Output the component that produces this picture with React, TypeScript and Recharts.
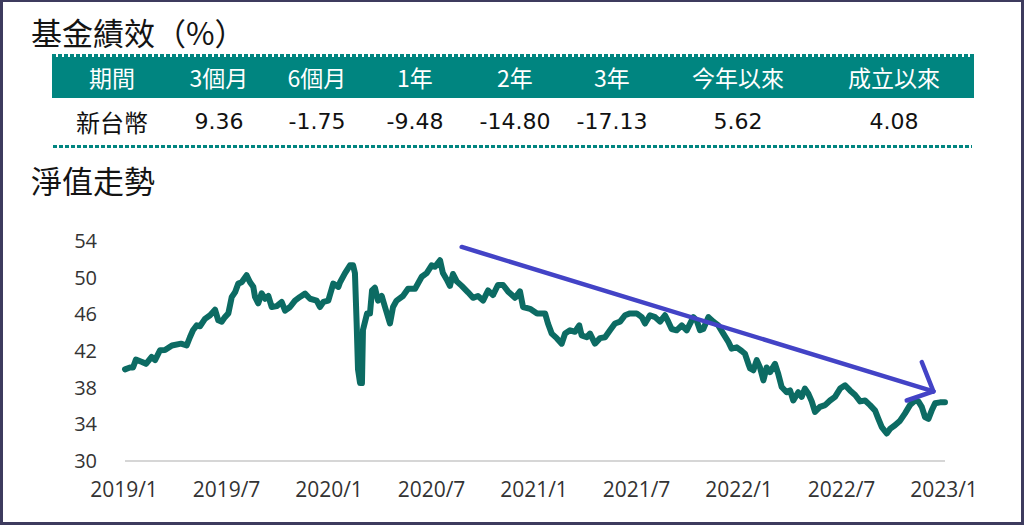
import React from 'react';
import { LineChart, Line, XAxis, YAxis, ReferenceLine } from 'recharts';

// Performance table
const periodHeaders = ['期間', '3個月', '6個月', '1年', '2年', '3年', '今年以來', '成立以來'];
const rowLabel = '新台幣';
const returnValues = ['9.36', '-1.75', '-9.48', '-14.80', '-17.13', '5.62', '4.08'];

// NAV chart: time in months since 2019/1, NAV
const tickLabels = ['2019/1', '2019/7', '2020/1', '2020/7', '2021/1', '2021/7', '2022/1', '2022/7', '2023/1'];
const tickMonths = [0, 6, 12, 18, 24, 30, 36, 42, 48];
const yTicks = [30, 34, 38, 42, 46, 50, 54];
const navMonths = [
  0, 0.29, 0.47, 0.64, 1.0, 1.23, 1.56, 1.76, 2.05, 2.34, 2.75, 3.28, 3.61, 3.8, 3.98, 4.2,
  4.39, 4.68, 4.98, 5.27, 5.46, 5.66, 5.85, 6.05, 6.25, 6.44, 6.63, 6.83, 7.12, 7.32, 7.51, 7.61,
  7.8, 8.0, 8.2, 8.39, 8.59, 8.88, 9.17, 9.37, 9.66, 9.95, 10.24, 10.54, 10.83, 11.22, 11.41, 11.61,
  11.9, 12.19, 12.49, 12.59, 12.88, 13.17, 13.35, 13.46, 13.56, 13.64, 13.76, 13.87, 13.93, 14.17, 14.34, 14.46,
  14.63, 14.81, 15.03, 15.22, 15.51, 15.69, 15.9, 16.27, 16.57, 16.98, 17.37, 17.66, 17.95, 18.15, 18.44, 18.61,
  18.83, 19.02, 19.2, 19.42, 19.71, 20.08, 20.37, 20.66, 20.96, 21.25, 21.54, 21.83, 22.13, 22.42, 22.83, 23.12,
  23.3, 23.71, 24.12, 24.29, 24.59, 24.76, 24.98, 25.27, 25.56, 25.76, 26.05, 26.34, 26.59, 26.73, 27.03, 27.22,
  27.51, 27.81, 28.1, 28.39, 28.68, 28.98, 29.27, 29.56, 29.95, 30.25, 30.44, 30.73, 31.03, 31.32, 31.61, 31.8,
  32.0, 32.29, 32.59, 32.88, 33.27, 33.46, 33.66, 33.85, 34.15, 34.44, 34.73, 35.02, 35.32, 35.51, 35.81, 36.1,
  36.29, 36.49, 36.59, 36.78, 36.98, 37.17, 37.37, 37.56, 37.76, 38.05, 38.24, 38.44, 38.73, 38.93, 39.12, 39.41,
  39.61, 39.8, 40.0, 40.2, 40.39, 40.68, 40.98, 41.27, 41.56, 41.86, 42.15, 42.44, 42.74, 43.03, 43.32, 43.61,
  43.91, 44.1, 44.3, 44.59, 44.78, 45.07, 45.37, 45.66, 45.95, 46.25, 46.44, 46.64, 46.83, 47.03, 47.22, 47.42,
  47.71, 48.0,
];
const navValues = [
  40.0, 40.2, 40.2, 41.06, 40.8, 40.6, 41.35, 41.0, 42.08, 42.1, 42.6, 42.8, 42.6, 43.5, 44.26, 44.8,
  44.7, 45.5, 45.9, 46.5, 45.35, 45.2, 45.7, 46.1, 47.9, 48.4, 49.35, 49.5, 50.26, 49.5, 49.0, 47.9,
  47.2, 48.3, 47.7, 48.0, 46.8, 46.9, 47.35, 46.4, 46.8, 47.5, 47.9, 48.26, 47.7, 47.5, 46.8, 47.35,
  47.5, 49.35, 49.0, 49.5, 50.5, 51.35, 51.35, 50.5, 45.0, 40.0, 38.5, 38.5, 44.3, 46.1, 46.1, 48.6,
  48.9, 47.5, 48.0, 46.8, 45.0, 46.8, 47.5, 48.0, 48.8, 48.8, 50.1, 50.5, 51.35, 51.2, 51.9, 50.5,
  49.8, 49.1, 50.4, 49.6, 49.1, 48.4, 47.8, 48.0, 47.5, 48.6, 48.1, 49.2, 49.2, 48.5, 47.8, 48.5,
  46.8, 46.6, 46.1, 46.1, 46.1, 45.0, 43.9, 43.4, 42.8, 43.9, 44.26, 44.1, 44.8, 43.7, 43.5, 43.9,
  42.8, 43.4, 43.5, 44.26, 45.0, 45.2, 45.9, 46.1, 46.1, 45.7, 45.0, 45.9, 45.7, 45.2, 45.9, 45.2,
  44.4, 44.26, 44.8, 44.26, 45.7, 45.35, 44.26, 44.4, 45.7, 45.2, 44.8, 43.9, 43.0, 42.26, 42.4, 42.0,
  41.7, 40.6, 40.1, 39.9, 41.0, 40.2, 38.8, 40.2, 39.7, 40.6, 39.5, 38.07, 37.5, 37.7, 36.6, 37.5,
  37.0, 37.9, 37.35, 36.5, 35.35, 35.9, 36.1, 36.6, 37.0, 37.9, 38.26, 37.7, 37.2, 36.5, 36.6, 36.1,
  35.5, 34.6, 33.7, 33.0, 33.5, 33.9, 34.4, 35.2, 36.1, 36.6, 36.5, 35.9, 34.8, 34.6, 35.5, 36.3,
  36.4, 36.4,
];

// Trend arrow annotation (in chart data units: months, NAV)
const arrowStart = { x: 19.71, y: 53.35 };
const arrowTip = { x: 47.32, y: 37.6 };
const arrowHeadA = { x: 46.64, y: 40.8 };
const arrowHeadB = { x: 45.76, y: 36.6 };

const chartData = navMonths.map((m, i) => ({ t: m, nav: navValues[i] }));

const TEAL = '#008580';
const LINE = '#0c6b63';
const ARROW = '#4343c6';
const CJK = '"Noto Sans CJK TC", "Noto Sans CJK SC", sans-serif';
const NUM = '"DejaVu Sans", sans-serif';

const colCenters = [112, 219, 317, 415, 515, 612, 738, 894];

const dotted: React.CSSProperties = {
  position: 'absolute',
  height: 3,
  backgroundImage: `repeating-linear-gradient(to right, ${TEAL} 0px, ${TEAL} 4px, transparent 4px, transparent 6px)`,
};

export default function App() {
  return (
    <div style={{ position: 'absolute', left: 0, top: 0, width: 1024, height: 525, background: '#fff', overflow: 'hidden' }}>
      <div style={{ position: 'absolute', left: 31, top: 10, fontFamily: CJK, fontSize: 31, color: '#141414', lineHeight: '44px', whiteSpace: 'nowrap' }}>
        基金績效（%）
      </div>

      <div style={{ ...dotted, left: 52, top: 54, width: 922 }} />
      <div style={{ position: 'absolute', left: 52, top: 57, width: 922, height: 41, background: TEAL }} />
      {periodHeaders.map((h, i) => (
        <div key={h} style={{ position: 'absolute', left: colCenters[i] - 70, width: 140, top: 57, height: 41, lineHeight: '41px', textAlign: 'center', color: '#fff', fontFamily: CJK, fontSize: 23, whiteSpace: 'nowrap' }}>
          {h}
        </div>
      ))}
      <div style={{ position: 'absolute', left: colCenters[0] - 70, width: 140, top: 101, height: 41, lineHeight: '41px', textAlign: 'center', color: '#111', fontFamily: CJK, fontSize: 24 }}>
        {rowLabel}
      </div>
      {returnValues.map((v, i) => (
        <div key={i} style={{ position: 'absolute', left: colCenters[i + 1] - 70, width: 140, top: 101, height: 41, lineHeight: '41px', textAlign: 'center', color: '#111', fontFamily: NUM, fontSize: 22 }}>
          {v}
        </div>
      ))}
      <div style={{ ...dotted, left: 53, top: 144.5, width: 919 }} />

      <div style={{ position: 'absolute', left: 31, top: 158, fontFamily: CJK, fontSize: 31, color: '#141414', lineHeight: '44px', whiteSpace: 'nowrap' }}>
        淨值走勢
      </div>

      <div style={{ position: 'absolute', left: 0, top: 220 }}>
        <LineChart width={1024} height={301} data={chartData} margin={{ top: 21, right: 79, bottom: 0, left: 0 }}>
          <XAxis
            dataKey="t"
            type="number"
            domain={[0, 48]}
            ticks={tickMonths}
            interval={0}
            tickFormatter={(v: number) => tickLabels[tickMonths.indexOf(v)]}
            axisLine={{ stroke: '#d6d6d6', strokeWidth: 2 }}
            tickLine={false}
            tickSize={0}
            tickMargin={21}
            height={60}
            dx={-1}
            tick={{ fill: '#333', fontSize: 21, fontFamily: '"Open Sans", sans-serif' }}
          />
          <YAxis
            domain={[30, 54]}
            ticks={yTicks}
            interval={0}
            width={125}
            axisLine={false}
            tickLine={false}
            tickSize={0}
            tickMargin={28}
            tick={{ fill: '#333', fontSize: 20, fontFamily: '"Open Sans", sans-serif' }}
          />
          <Line
            type="linear"
            dataKey="nav"
            stroke={LINE}
            strokeWidth={6}
            strokeLinejoin="round"
            strokeLinecap="round"
            dot={false}
            activeDot={false}
            isAnimationActive={false}
          />
          <ReferenceLine segment={[arrowStart, arrowTip]} stroke={ARROW} strokeWidth={4.5} strokeLinecap="round" ifOverflow="visible" />
          <ReferenceLine segment={[arrowHeadA, arrowTip]} stroke={ARROW} strokeWidth={4.5} strokeLinecap="round" ifOverflow="visible" />
          <ReferenceLine segment={[arrowHeadB, arrowTip]} stroke={ARROW} strokeWidth={4.5} strokeLinecap="round" ifOverflow="visible" />
        </LineChart>
      </div>

      <div style={{ position: 'absolute', left: 0, top: 0, width: 1024, height: 525, boxSizing: 'border-box', borderStyle: 'solid', borderColor: '#3d3b5e', borderWidth: '2px 3px 3px 3px', pointerEvents: 'none' }} />
    </div>
  );
}
